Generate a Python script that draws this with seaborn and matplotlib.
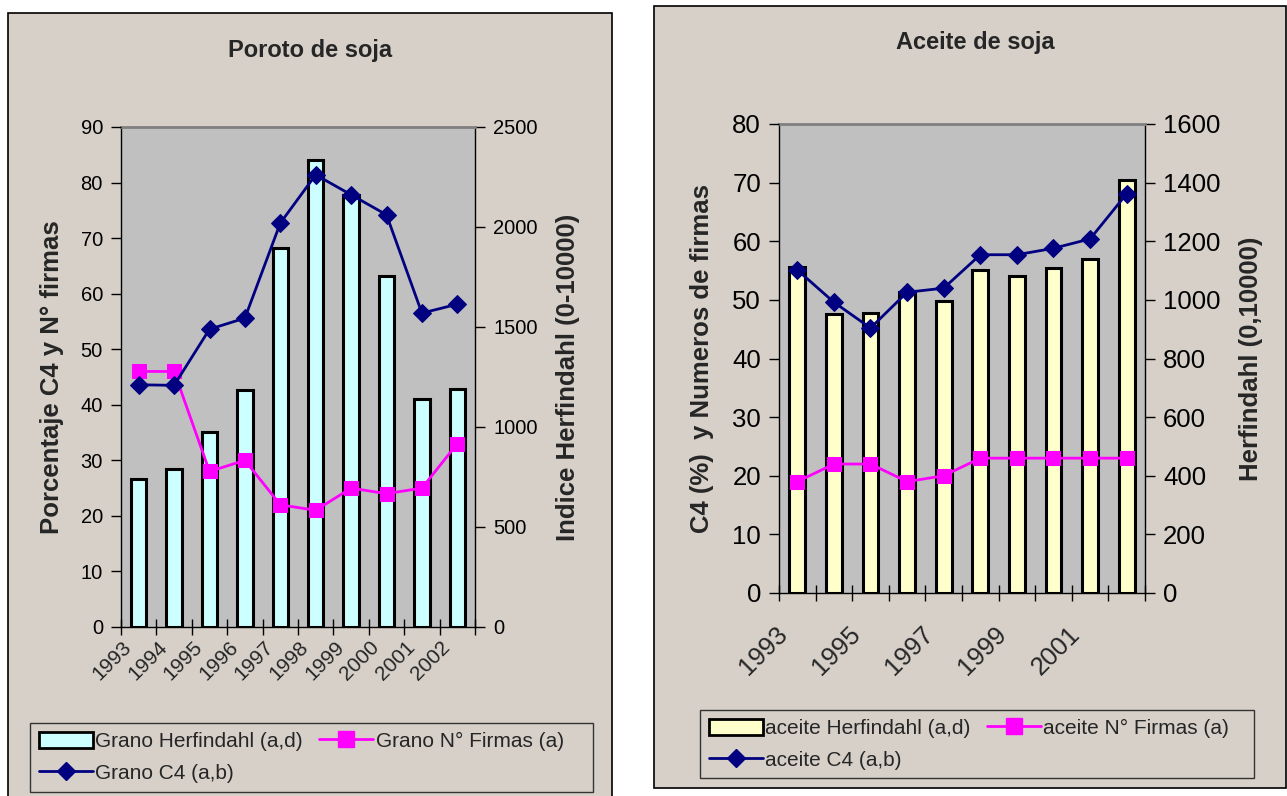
import numpy as np
import pandas as pd
import matplotlib
matplotlib.use("Agg")
import matplotlib.pyplot as plt
import seaborn as sns
from matplotlib.patches import Rectangle, Patch
from matplotlib.lines import Line2D
from matplotlib.ticker import FixedLocator
import matplotlib.transforms as mtransforms

# ---- data ---------------------------------------------------------------
years = ["1993", "1994", "1995", "1996", "1997", "1998", "1999", "2000", "2001", "2002"]

grano_herfindahl = [740, 790, 975, 1185, 1895, 2335, 2160, 1755, 1140, 1190]
grano_firmas = [46, 46, 28, 30, 22, 21, 25, 24, 25, 33]
grano_c4 = [43.6, 43.5, 53.6, 55.6, 72.7, 81.4, 77.8, 74.2, 56.5, 58.1]

aceite_herfindahl = [1112, 952, 955, 1027, 997, 1102, 1082, 1109, 1140, 1409]
aceite_firmas = [19, 22, 22, 19, 20, 23, 23, 23, 23, 23]
aceite_c4 = [55.1, 49.6, 45.2, 51.3, 52.0, 57.7, 57.7, 58.8, 60.4, 68.1]

# ---- styling ------------------------------------------------------------
sns.set_theme(style="white")
plt.rcParams["font.family"] = ["Liberation Sans", "DejaVu Sans"]

W, H = 1287, 796
PANEL_BG = "#D6D0C9"
PLOT_BG = "#C0C0C0"
MAGENTA = "#FF00FF"
NAVY = "#000080"

fig = plt.figure(figsize=(W / 100, H / 100), dpi=100)
fig.patch.set_facecolor("white")


def px_rect(x0, y0, x1, y1):
    return [x0 / W, 1 - y1 / H, (x1 - x0) / W, (y1 - y0) / H]


def frame_box(x0, y0, x1, y1, face, edge, lw, z):
    fig.add_artist(Rectangle((x0 / W, 1 - y1 / H), (x1 - x0) / W, (y1 - y0) / H,
                             transform=fig.transFigure, facecolor=face,
                             edgecolor=edge, lw=lw, zorder=z))


def draw_chart(box, herf, firmas, c4, bar_color, herf_max, herf_step,
               pct_max, pct_step, label_every, tick_fs, xtick_fs, lab_fs,
               left_label, right_label, left_lab_x, right_lab_x, xlab_shift):
    ax = fig.add_axes(px_rect(*box))
    n = len(years)
    df = pd.DataFrame({"year": years, "pos": np.arange(n),
                       "herf": herf, "firmas": firmas, "c4": c4})

    # Herfindahl bars (right-hand scale)
    sns.barplot(data=df, x="year", y="herf", color=bar_color, saturation=1,
                edgecolor="black", linewidth=2.2, width=0.43, ax=ax)
    ax.set_ylim(0, herf_max)
    ax.set_xlim(-0.5, n - 0.5)
    ax.set_facecolor(PLOT_BG)

    # Percent / firm-count lines (left-hand scale)
    ax2 = ax.twinx()
    sns.lineplot(data=df, x="pos", y="firmas", ax=ax2, color=MAGENTA, lw=2,
                 marker="s", markersize=10, markeredgecolor=MAGENTA)
    sns.lineplot(data=df, x="pos", y="c4", ax=ax2, color=NAVY, lw=2,
                 marker="D", markersize=9, markeredgecolor=NAVY)
    ax2.set_ylim(0, pct_max)
    ax2.set_xlim(-0.5, n - 0.5)

    # bars' axis on the right, lines' axis on the left
    ax.yaxis.tick_right()
    ax.yaxis.set_label_position("right")
    ax2.yaxis.tick_left()
    ax2.yaxis.set_label_position("left")

    ax.set_yticks(np.arange(0, herf_max + 1, herf_step))
    ax2.set_yticks(np.arange(0, pct_max + 1, pct_step))
    ax.tick_params(axis="y", direction="out", length=7, width=1, colors="black",
                   labelsize=tick_fs, pad=6, right=True, left=False)
    ax2.tick_params(axis="y", direction="out", length=7, width=1, colors="black",
                    labelsize=tick_fs, pad=6, left=True, right=False)

    # x axis: boundary tick marks, labels at category centres
    ax.xaxis.set_major_locator(FixedLocator(np.arange(0, n, label_every)))
    ax.set_xticklabels(years[::label_every])
    ax.xaxis.set_minor_locator(FixedLocator(np.arange(-0.5, n, 1.0)))
    ax.tick_params(axis="x", which="major", length=0, labelsize=xtick_fs, pad=10,
                   bottom=True)
    ax.tick_params(axis="x", which="minor", direction="inout", length=12,
                   width=1, color="black", bottom=True)
    shift = mtransforms.ScaledTranslation(xlab_shift[0] / 100, xlab_shift[1] / 100,
                                          fig.dpi_scale_trans)
    for lab in ax.get_xticklabels():
        lab.set_rotation(45)
        lab.set_ha("right")
        lab.set_va("center")
        lab.set_rotation_mode("anchor")
        lab.set_transform(lab.get_transform() + shift)

    for sp in ax2.spines.values():
        sp.set_visible(False)
    for name in ("left", "right", "bottom"):
        ax.spines[name].set_color("black")
        ax.spines[name].set_linewidth(1)
    ax.spines["top"].set_color("#808080")
    ax.spines["top"].set_linewidth(2)

    ax.set_xlabel("")
    ax2.set_xlabel("")
    ax.set_ylabel(right_label, fontsize=lab_fs, fontweight="bold", rotation=90)
    ax2.set_ylabel(left_label, fontsize=lab_fs, fontweight="bold")
    ax.yaxis.set_label_coords(right_lab_x, 0.5)
    ax2.yaxis.set_label_coords(left_lab_x, 0.5)
    if ax2.get_legend():
        ax2.get_legend().remove()

    handles = [
        Patch(facecolor=bar_color, edgecolor="black", lw=2),
        Line2D([], [], color=NAVY, lw=2, marker="D", markersize=9),
        Line2D([], [], color=MAGENTA, lw=2, marker="s", markersize=11),
    ]
    return ax, handles


def add_legend(handles, names, box):
    x0, y0, x1, y1 = box
    frame_box(x0, y0, x1, y1, PANEL_BG, "#333333", 1, -4)
    leg = fig.legend(handles, names, loc="upper left", ncol=2,
                     bbox_to_anchor=(x0 / W, 1 - y0 / H),
                     borderaxespad=0, fontsize=15, frameon=False,
                     handlelength=2.6, handletextpad=0.1, labelspacing=0.6,
                     borderpad=0.42, columnspacing=0.8, handleheight=0.8)
    return leg


# ---- left panel: Poroto de soja ----------------------------------------
frame_box(8, 13, 612, 805, PANEL_BG, "black", 1.2, -5)
_, h_left = draw_chart((121, 127, 475, 627), grano_herfindahl, grano_firmas, grano_c4,
                       "#CCFFFF", 2500, 500, 90, 10, 1, 14.5, 15, 18.5,
                       "Porcentaje C4 y N° firmas", "Indice Herfindahl (0-10000)",
                       -0.16, 1.228, (-10, -3))
fig.text(310 / W, 1 - 50 / H, "Poroto de soja", ha="center", va="center",
         fontsize=17, fontweight="bold")
add_legend(h_left, ["Grano Herfindahl (a,d)", "Grano C4 (a,b)", "Grano N° Firmas (a)"],
           (30, 723, 593, 792))

# ---- right panel: Aceite de soja ----------------------------------------
frame_box(654, 6, 1286, 788, PANEL_BG, "black", 1.2, -5)
_, h_right = draw_chart((779, 124, 1145, 593), aceite_herfindahl, aceite_firmas, aceite_c4,
                        "#FFFFCC", 1600, 200, 80, 10, 2, 18.5, 18.5, 18.5,
                        "C4 (%)  y Numeros de firmas", "Herfindahl (0,10000)",
                        -0.178, 1.258, (-14, -24))
fig.text(975 / W, 1 - 43 / H, "Aceite de soja", ha="center", va="center",
         fontsize=17, fontweight="bold")
add_legend(h_right, ["aceite Herfindahl (a,d)", "aceite C4 (a,b)", "aceite N° Firmas (a)"],
           (700, 710, 1254, 778))

fig.savefig("out.png", dpi=100, facecolor=fig.get_facecolor())
